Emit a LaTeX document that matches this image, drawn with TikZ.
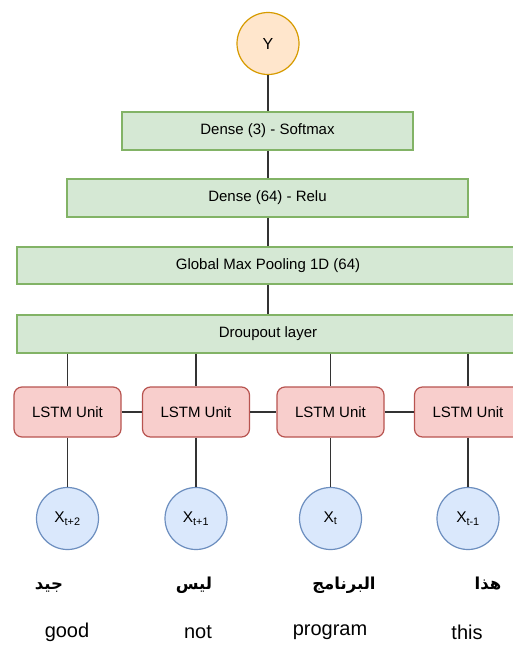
\documentclass[tikz,border=0pt]{standalone}
\usepackage{fontspec}
\setmainfont{Liberation Sans}
\newfontfamily\arabicfont[Script=Arabic]{DejaVu Sans}
\TeXXeTstate=1
\definecolor{gfill}{HTML}{D5E8D4}
\definecolor{gdraw}{HTML}{82B366}
\definecolor{rfill}{HTML}{F8CECC}
\definecolor{rdraw}{HTML}{B85450}
\definecolor{bfill}{HTML}{DAE8FC}
\definecolor{bdraw}{HTML}{6C8EBF}
\definecolor{ofill}{HTML}{FFE6CC}
\definecolor{odraw}{HTML}{D79B00}
\definecolor{lcol}{HTML}{333333}
\begin{document}
\begin{tikzpicture}[x=1pt,y=-1pt,
  layerbox/.style={draw=gdraw,fill=gfill,line width=1.2pt,minimum height=38pt,inner sep=0pt,font=\fontsize{15}{17}\selectfont},
  lstmbox/.style={draw=rdraw,fill=rfill,line width=1.2pt,rounded corners=8pt,minimum width=107pt,minimum height=50pt,inner sep=0pt,font=\fontsize{15}{17}\selectfont},
  xcirc/.style={circle,draw=bdraw,fill=bfill,line width=1.2pt,minimum size=62pt,inner sep=0pt,font=\fontsize{15.5}{17}\selectfont},
  ycirc/.style={circle,draw=odraw,fill=ofill,line width=1.2pt,minimum size=62pt,inner sep=0pt,font=\fontsize{16}{18}\selectfont},
  conn/.style={draw=lcol,line width=1.3pt},
  arword/.style={font=\arabicfont\bfseries\fontsize{16.5}{18}\selectfont,inner sep=0pt,anchor=base},
  enword/.style={font=\fontsize{20}{22}\selectfont,inner sep=0pt}]
\useasboundingbox (0,0) rectangle (513,646);
\clip (0,0) rectangle (513,646);
\fill[white] (0,0) rectangle (513,646);

\node[ycirc] (y) at (268,43.5) {Y};
\node[layerbox,minimum width=291pt] (d3) at (267.5,131) {Dense (3) - Softmax};
\node[layerbox,minimum width=401pt] (d64) at (267.5,198) {Dense (64) - Relu};
\node[layerbox,minimum width=502pt,minimum height=37pt] (gmp) at (268,265.5) {Global Max Pooling 1D (64)};
\node[layerbox,minimum width=502pt] (drop) at (268,334) {Droupout layer};

\node[lstmbox] (l1) at (67.5,412) {LSTM Unit};
\node[lstmbox] (l2) at (196,412) {LSTM Unit};
\node[lstmbox] (l3) at (330.5,412) {LSTM Unit};
\node[lstmbox] (l4) at (468,412) {LSTM Unit};

\node[xcirc] (x1) at (67.5,518.5) {X\textsubscript{t+2}};
\node[xcirc] (x2) at (196,518.5) {X\textsubscript{t+1}};
\node[xcirc] (x3) at (330.5,518.5) {X\textsubscript{t}};
\node[xcirc] (x4) at (468,518.5) {X\textsubscript{t-1}};

\node[arword] (a1) at (49,589) {\beginR جيد\endR};
\node[arword] (a2) at (194,589) {\beginR ليس\endR};
\node[arword] (a3) at (344,589) {\beginR البرنامج\endR};
\node[arword] (a4) at (488,589) {\beginR هذا\endR};

\node[enword] (e1) at (67,632) {good};
\node[enword] (e2) at (198,632) {not};
\node[enword] (e3) at (330,632) {program};
\node[enword] (e4) at (467,632) {this};

\draw[conn] (y.south) -- (y.south |- d3.north);
\draw[conn] (y.south |- d3.south) -- (y.south |- d64.north);
\draw[conn] (y.south |- d64.south) -- (y.south |- gmp.north);
\draw[conn] (y.south |- gmp.south) -- (y.south |- drop.north);

\foreach \i in {1,2,3,4}{
  \draw[conn] (l\i.north |- drop.south) -- (l\i.north);
  \draw[conn] (l\i.south) -- (x\i.north);
}
\draw[conn] (l1.east) -- (l2.west);
\draw[conn] (l2.east) -- (l3.west);
\draw[conn] (l3.east) -- (l4.west);
\end{tikzpicture}
\end{document}
